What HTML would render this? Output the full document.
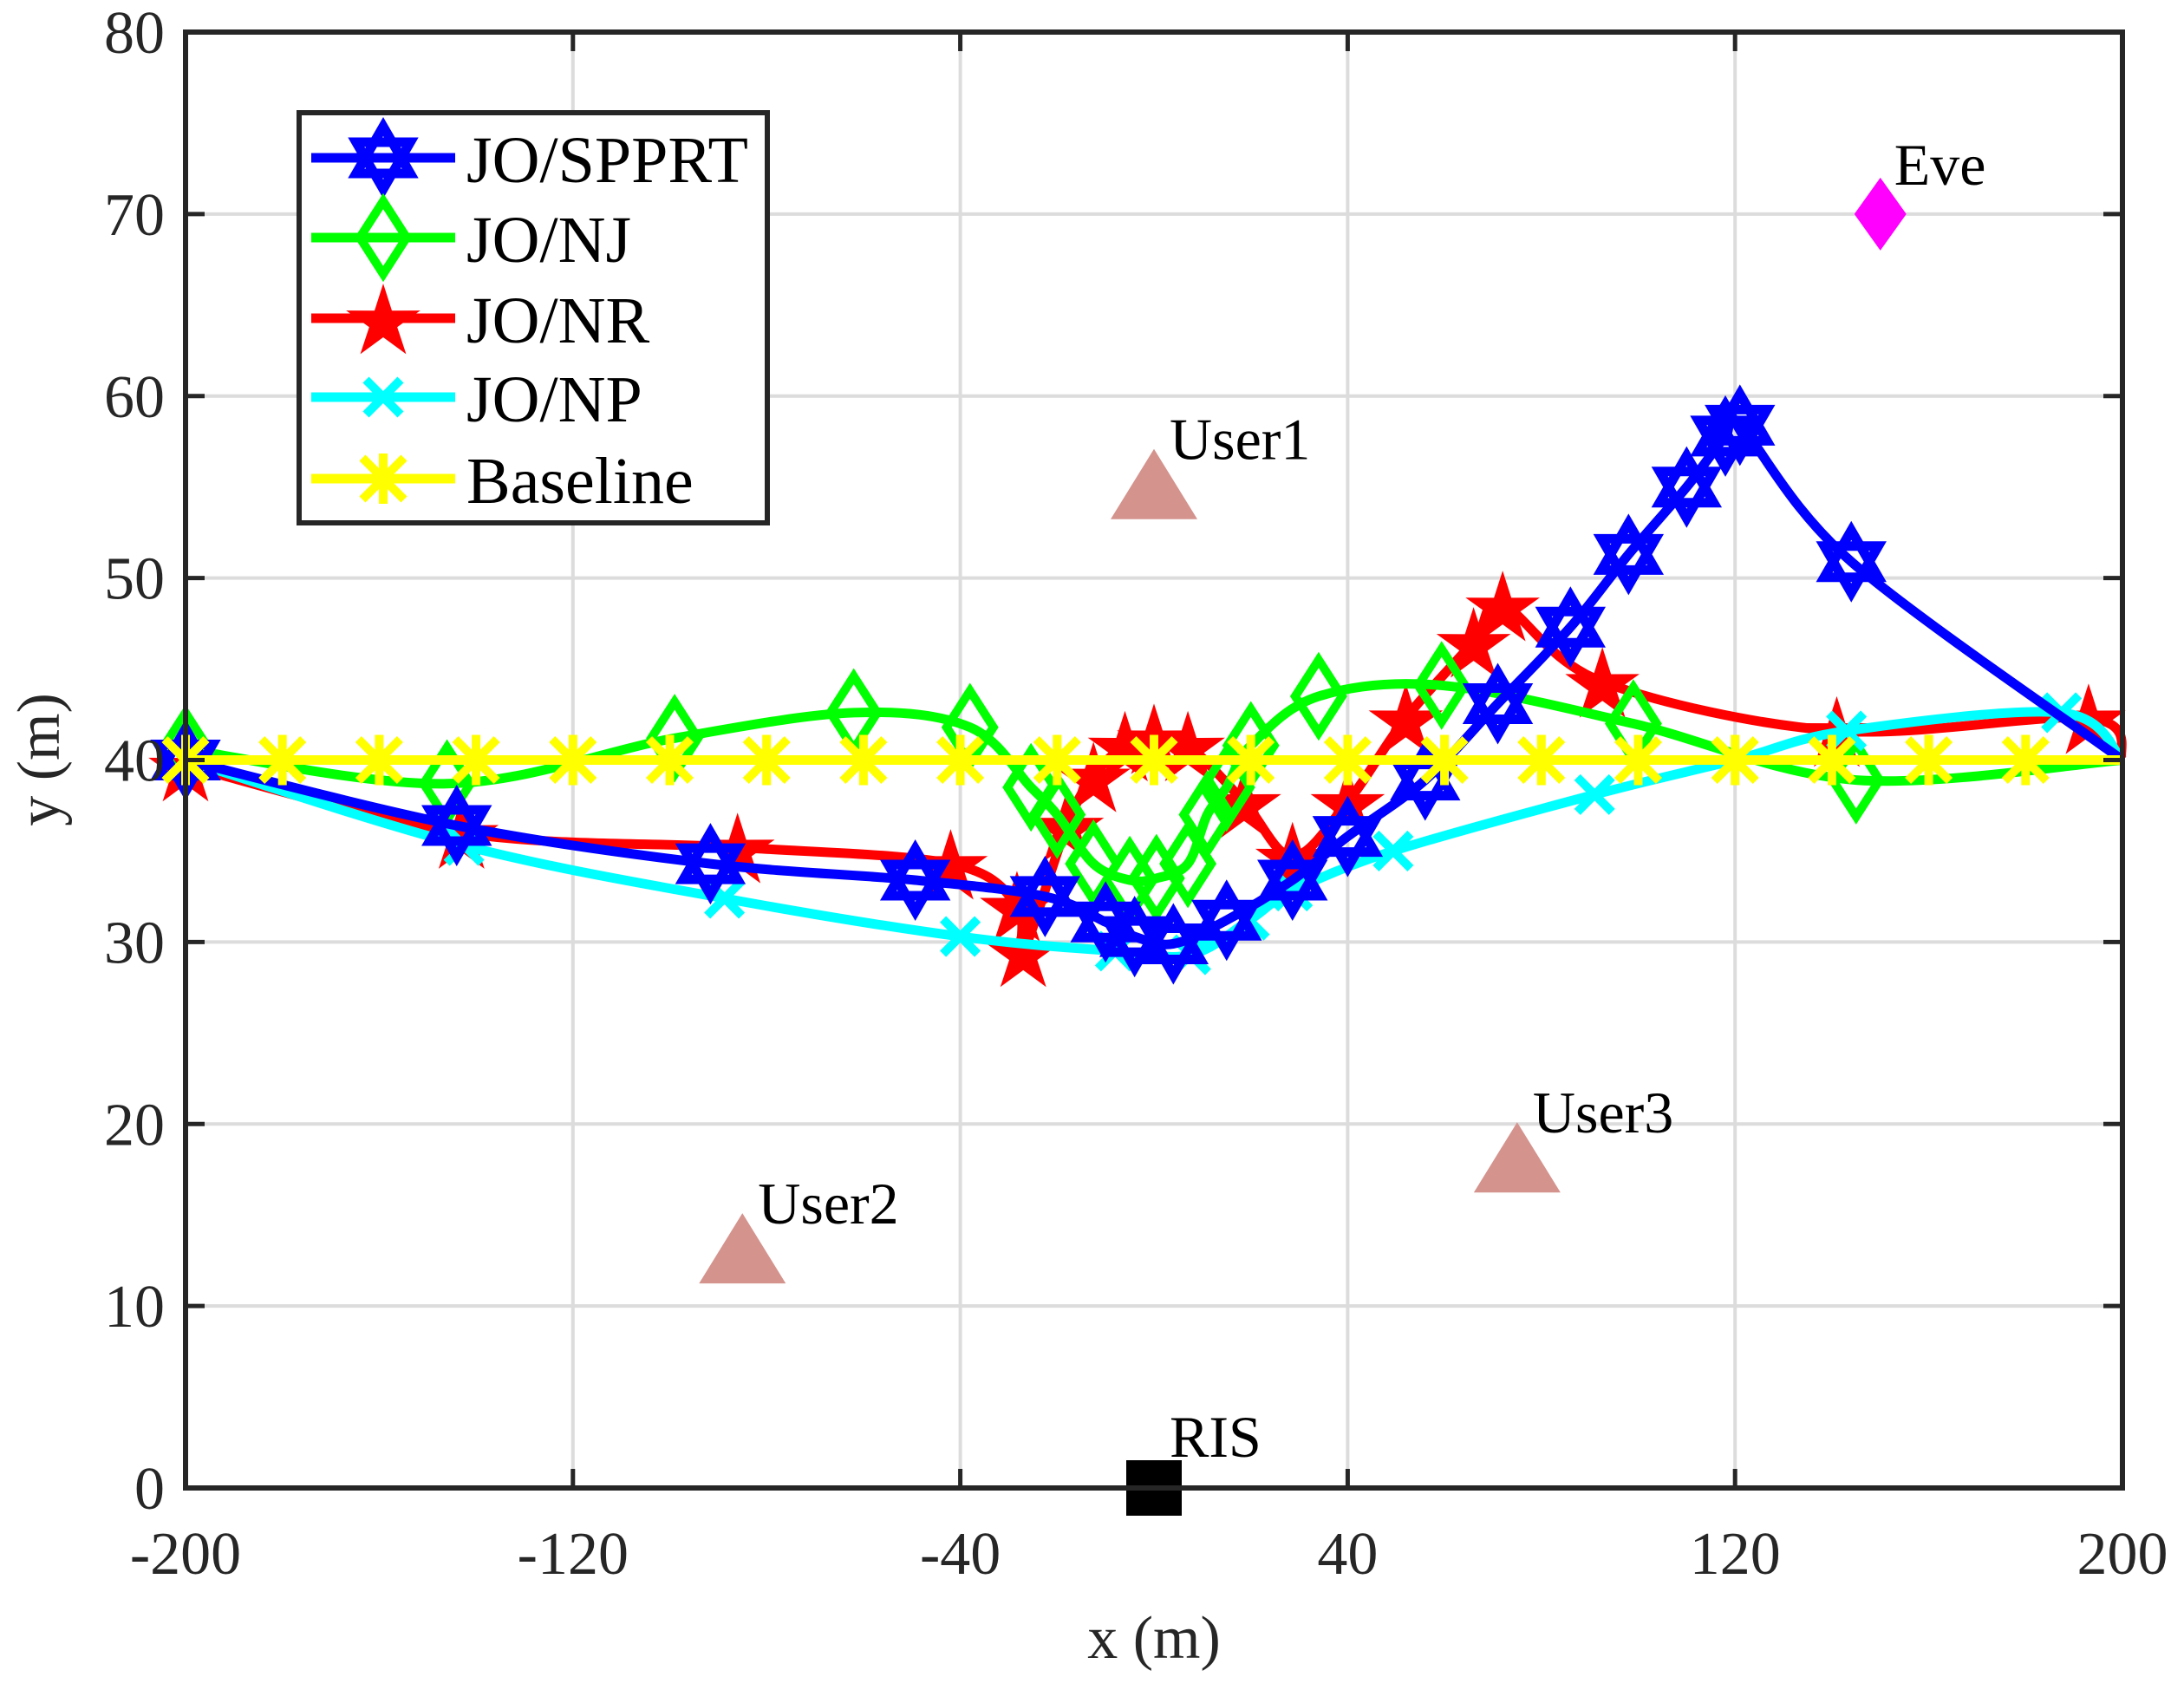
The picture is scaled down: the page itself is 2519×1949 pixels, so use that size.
<!DOCTYPE html>
<html><head><meta charset="utf-8"><style>
html,body{margin:0;padding:0;background:#fff;}
svg{display:block;font-family:"Liberation Serif",serif;}
</style></head><body>
<svg id="chart" width="2519" height="1949" viewBox="0 0 2519 1949" xmlns="http://www.w3.org/2000/svg"></svg>
<script>
const xTicks=[-200,-120,-40,40,120,200];
const yTicks=[0,10,20,30,40,50,60,70,80];
const seriesNames=["JO/SPPRT","JO/NJ","JO/NR","JO/NP","Baseline"];
const spprtX=[-200,-144,-91.6,-49.3,-22.5,-10,-4,4,15,28.6,40,56,71,86,98,110,118,121,144,200];
const spprtY=[40,36.4,34.3,33.4,32.5,31.1,30.3,29.9,31.2,33.4,35.8,38.9,43.1,47.3,51.3,55,57.8,58.4,50.9,40];
const njX=[-200,-146,-99,-62,-38,-25.4,-20,-12.5,-5,0.5,7,11,15,20,34,59.4,99,145,200];
const njY=[40.6,38.7,41.2,42.6,41.8,38.5,37,34.3,33.4,33.5,34.3,37,38.5,40.8,43.5,44.1,42,38.9,40];
const nrX=[-200,-143,-86,-42,-28.3,-27,-18,-12.5,-6,0,7,18.6,28.6,40,52,66,72,92.6,141,193,200];
const nrY=[39.7,36,35.2,34.3,32,29.5,36.4,39.1,40.8,41.2,40.8,37.7,34.7,37.7,42.3,46.5,48.5,44.3,41.6,42.3,40];
const npX=[-200,-142.5,-88.7,-40,-8,7.6,19.7,28.6,49.4,91,120,143,187.4,200];
const npY=[40,35.3,32.4,30.3,29.5,29.3,31.2,32.8,35,38.1,40,41.6,42.6,40];
const baseX=[-200,-180,-160,-140,-120,-100,-80,-60,-40,-20,0,20,40,60,80,100,120,140,160,180,200];
const baseY=[40,40,40,40,40,40,40,40,40,40,40,40,40,40,40,40,40,40,40,40,40];
const userNames=["User1","User2","User3"];
const userX=[0,-85,75];
const userY=[55,13,18];
const eveX=150, eveY=70;
const risX=0, risY=0;

const L=214,R=2448,T=37,B=1716;
const sx=x=>L+(x+200)/400*(R-L);
const sy=y=>B-y/80*(B-T);
const svg=document.getElementById('chart');
const NS="http://www.w3.org/2000/svg";
function mk(tag,attrs,parent){const e=document.createElementNS(NS,tag);for(const k in attrs)e.setAttribute(k,attrs[k]);(parent||svg).appendChild(e);return e;}

const grid=mk('g',{});


xTicks.forEach(v=>{mk('line',{x1:sx(v),x2:sx(v),y1:T,y2:B,stroke:'#dcdcdc','stroke-width':4},grid);});
yTicks.forEach(v=>{mk('line',{x1:L,x2:R,y1:sy(v),y2:sy(v),stroke:'#dcdcdc','stroke-width':4},grid);});

function smoothPath(xs,ys){
  const p=xs.map((x,i)=>[sx(x),sy(ys[i])]);
  let d=`M${p[0][0]},${p[0][1]}`;
  for(let i=0;i<p.length-1;i++){
    const p0=p[i-1]||p[i],p1=p[i],p2=p[i+1],p3=p[i+2]||p2;
    const c1=[p1[0]+(p2[0]-p0[0])/6,p1[1]+(p2[1]-p0[1])/6];
    const c2=[p2[0]-(p3[0]-p1[0])/6,p2[1]-(p3[1]-p1[1])/6];
    d+=` C${c1[0]},${c1[1]} ${c2[0]},${c2[1]} ${p2[0]},${p2[1]}`;
  }
  return d;
}
function marker(type,x,y,color,g){
  if(type==='hex'){
    const r=36;
    const t1=[[0,-r],[r*0.866,r*0.5],[-r*0.866,r*0.5]];
    const t2=[[0,r],[r*0.866,-r*0.5],[-r*0.866,-r*0.5]];
    [t1,t2].forEach(t=>mk('polygon',{points:t.map(q=>(x+q[0])+','+(y+q[1])).join(' '),fill:'none',stroke:color,'stroke-width':11,'stroke-linejoin':'miter'},g));
  }else if(type==='dia'){
    mk('polygon',{points:`${x},${y-42} ${x+27},${y} ${x},${y+42} ${x-27},${y}`,fill:'none',stroke:color,'stroke-width':10},g);
  }else if(type==='star'){
    let pts=[];for(let i=0;i<10;i++){const a=-Math.PI/2+i*Math.PI/5;const r=i%2?17:45;pts.push((x+r*Math.cos(a))+','+(y+5+r*Math.sin(a)));}
    mk('polygon',{points:pts.join(' '),fill:color},g);
  }else if(type==='x'){
    const r=20;
    mk('path',{d:`M${x-r},${y-r}L${x+r},${y+r}M${x-r},${y+r}L${x+r},${y-r}`,stroke:color,'stroke-width':10},g);
  }else if(type==='ast'){
    const r=24;
    mk('path',{d:`M${x},${y-29}L${x},${y+29}M${x-r},${y-r}L${x+r},${y+r}M${x-r},${y+r}L${x+r},${y-r}`,stroke:color,'stroke-width':10},g);
  }
}
const series=[
 {n:'jo-nr',xs:nrX,ys:nrY,c:'#ff0000',m:'star'},
 {n:'jo-nj',xs:njX,ys:njY,c:'#00ff00',m:'dia'},
 {n:'jo-np',xs:npX,ys:npY,c:'#00ffff',m:'x'},
 {n:'jo-spprt',xs:spprtX,ys:spprtY,c:'#0000ff',m:'hex'},
 {n:'baseline',xs:baseX,ys:baseY,c:'#ffff00',m:'ast'}
];
series.forEach(s=>{
  const g=mk('g',{});
  
  
  mk('path',{d:smoothPath(s.xs,s.ys),fill:'none',stroke:s.c,'stroke-width':11,'stroke-linejoin':'round'},g);
  s.xs.forEach((x,i)=>{ if(i<s.xs.length-1) marker(s.m,sx(x),sy(s.ys[i]),s.c,g); });
});

userX.forEach((ux,i)=>{
  const x=sx(ux),y=sy(userY[i]);
  const t=mk('polygon',{points:`${x},${y-44} ${x+50},${y+37} ${x-50},${y+37}`,fill:'#d4938d'});
  
  
  const tx=mk('text',{x:x+18,y:y-32,'font-size':68,fill:'#000'});
  tx.textContent=userNames[i];
  
  
});
{
  const x=sx(eveX),y=sy(eveY);
  const e=mk('polygon',{points:`${x},${y-42} ${x+30},${y} ${x},${y+42} ${x-30},${y}`,fill:'#ff00ff'});
  
  
  const t=mk('text',{x:x+16,y:y-34,'font-size':68});
  t.textContent='Eve';
  
  
}
{
  const x=sx(risX),y=sy(risY);
  const r=mk('rect',{x:x-32,y:y-32,width:64,height:64,fill:'#000'});
  
  
  const t=mk('text',{x:x+18,y:y-36,'font-size':68});
  t.textContent='RIS';
  
  
}

const fr=mk('rect',{x:L,y:T,width:R-L,height:B-T,fill:'none',stroke:'#262626','stroke-width':6});


xTicks.forEach(v=>{
  mk('line',{x1:sx(v),x2:sx(v),y1:B,y2:B-22,stroke:'#262626','stroke-width':5});
  mk('line',{x1:sx(v),x2:sx(v),y1:T,y2:T+22,stroke:'#262626','stroke-width':5});
  const t=mk('text',{x:sx(v),y:1815,'font-size':70,'text-anchor':'middle',fill:'#262626'});
  t.textContent=v;
  
  
});
yTicks.forEach(v=>{
  mk('line',{x1:L,x2:L+22,y1:sy(v),y2:sy(v),stroke:'#262626','stroke-width':5});
  mk('line',{x1:R,x2:R-22,y1:sy(v),y2:sy(v),stroke:'#262626','stroke-width':5});
  const t=mk('text',{x:190,y:sy(v)+24,'font-size':70,'text-anchor':'end',fill:'#262626'});
  t.textContent=v;
  
  
});
const xt=mk('text',{x:1331,y:1912,'font-size':70,'text-anchor':'middle',fill:'#262626'});
xt.textContent='x (m)';


const yt=mk('text',{x:0,y:0,'font-size':70,'text-anchor':'middle',fill:'#262626',transform:'translate(68,876) rotate(-90)'});
yt.textContent='y (m)';



const lg=mk('g',{});


mk('rect',{x:345,y:130,width:540,height:473,fill:'#fff',stroke:'#262626','stroke-width':6},lg);
const legY=[182,274,367,458,552];
const legOrder=[3,1,0,2,4];
legOrder.forEach((si,i)=>{
  const s=series[si];
  const e=mk('g',{},lg);
  
  
  mk('line',{x1:359,x2:525,y1:legY[i],y2:legY[i],stroke:s.c,'stroke-width':11},e);
  marker(s.m,442,legY[i],s.c,e);
  const t=mk('text',{x:538,y:legY[i]+28,'font-size':76,fill:'#000'},e);
  t.textContent=seriesNames[i];
});
</script>
</body></html>
